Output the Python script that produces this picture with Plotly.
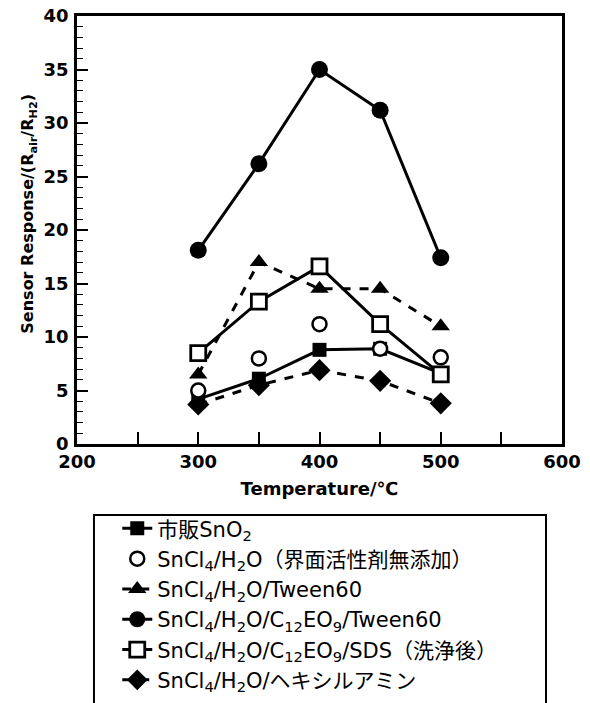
import plotly.graph_objects as go

temps = [300, 350, 400, 450, 500]

names = [
    "市販SnO<sub>2</sub>",
    "SnCl<sub>4</sub>/H<sub>2</sub>O（界面活性剤無添加）",
    "SnCl<sub>4</sub>/H<sub>2</sub>O/Tween60",
    "SnCl<sub>4</sub>/H<sub>2</sub>O/C<sub>12</sub>EO<sub>9</sub>/Tween60",
    "SnCl<sub>4</sub>/H<sub>2</sub>O/C<sub>12</sub>EO<sub>9</sub>/SDS（洗浄後）",
    "SnCl<sub>4</sub>/H<sub>2</sub>O/ヘキシルアミン",
]

commercial_sno2 = [4.2, 6.1, 8.8, 8.9, 6.6]
no_surfactant = [5.0, 8.0, 11.2, 8.9, 8.1]
tween60 = [6.5, 17.0, 14.5, 14.5, 11.0]
c12eo9_tween60 = [18.1, 26.2, 35.0, 31.2, 17.4]
c12eo9_sds = [8.5, 13.3, 16.6, 11.2, 6.5]
hexylamine = [3.7, 5.5, 6.9, 5.9, 3.8]

x_ticks = [200, 250, 300, 350, 400, 450, 500, 550, 600]
x_ticktext = ["200", "", "300", "", "400", "", "500", "", "600"]
y_ticks = [0, 5, 10, 15, 20, 25, 30, 35, 40]

series = [
    (commercial_sno2, "lines+markers", "solid", dict(symbol="square", size=14, color="black")),
    (no_surfactant, "markers", "solid", dict(symbol="circle", size=14, color="white", line=dict(color="black", width=2.5))),
    (tween60, "lines+markers", "dash", dict(symbol="triangle-up", size=16, color="black")),
    (c12eo9_tween60, "lines+markers", "solid", dict(symbol="circle", size=17, color="black")),
    (c12eo9_sds, "lines+markers", "solid", dict(symbol="square", size=15, color="white", line=dict(color="black", width=2.8))),
    (hexylamine, "lines+markers", "dash", dict(symbol="diamond", size=17, color="black")),
]

fig = go.Figure()
order = [5, 2, 0, 3, 4, 1]
traces = {}
for i, (vals, mode, dash, mk) in enumerate(series):
    traces[i] = go.Scatter(
        x=temps, y=vals, mode=mode, name=names[i], legendgroup=str(i),
        legendrank=i + 1,
        line=dict(color="black", width=3, dash=dash),
        marker=mk,
    )
for i in order:
    fig.add_trace(traces[i])

font_latin = "DejaVu Sans, Noto Sans CJK JP, sans-serif"

# page body adds an ~8px offset; sizes compensate for it
fig.update_layout(
    width=582, height=695,
    margin=dict(l=69, r=28, t=8, b=259, autoexpand=False),
    paper_bgcolor="white", plot_bgcolor="white",
    showlegend=True,
    font=dict(family=font_latin, color="black"),
    xaxis=dict(
        range=[200, 600], tickvals=x_ticks, ticktext=x_ticktext,
        ticks="inside", ticklen=12, tickwidth=1.5, tickcolor="black",
        showline=True, linecolor="black", linewidth=2.5, mirror=True,
        showgrid=False, zeroline=False, ticklabeloverflow="allow",
        tickfont=dict(size=18, family=font_latin, weight="bold"),
        title=dict(text="Temperature/℃", font=dict(size=18, weight="bold"), standoff=12),
    ),
    yaxis=dict(
        range=[0, 40], tickvals=y_ticks,
        ticks="inside", ticklen=11, tickwidth=1.5, tickcolor="black",
        minor=dict(dtick=1, ticks="inside", ticklen=6, tickwidth=1.2, tickcolor="black"),
        showline=True, linecolor="black", linewidth=2.5, mirror=True,
        showgrid=False, zeroline=False, ticklabeloverflow="allow",
        tickfont=dict(size=18, family=font_latin, weight="bold"),
        ticklabelstandoff=2,
    ),
    legend=dict(
        x=0.083, y=-0.150, xanchor="left", yanchor="top",
        bgcolor="rgba(0,0,0,0)", borderwidth=0,
        font=dict(size=21, family=font_latin),
        tracegroupgap=13, traceorder="normal",
    ),
    annotations=[dict(
        text="Sensor Response/(R<sub>air</sub>/R<sub>H2</sub>)",
        xref="paper", yref="paper", x=-0.1, y=0.537,
        xanchor="center", yanchor="middle", textangle=-90, showarrow=False,
        font=dict(size=16, family=font_latin, weight="bold"),
    )],
    shapes=[dict(
        type="rect", xref="paper", yref="paper",
        x0=0.035, x1=0.967, y0=-0.70, y1=-0.166,
        line=dict(color="black", width=2), fillcolor="rgba(0,0,0,0)", layer="below",
    )],
)

fig.write_html("out.html")
